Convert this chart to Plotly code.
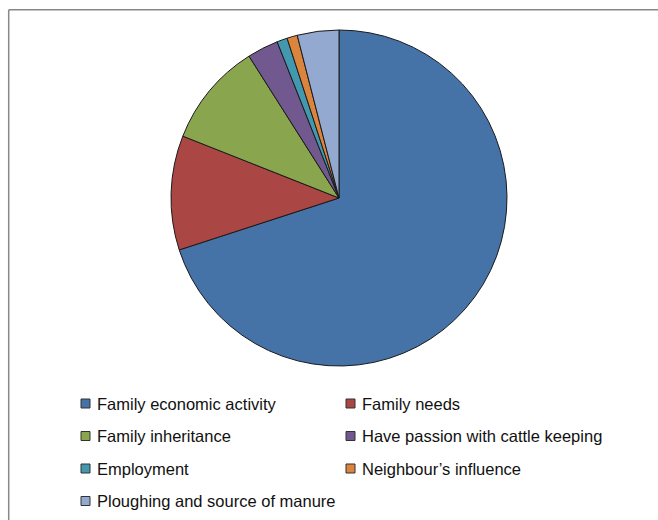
import plotly.graph_objects as go

# Reasons for keeping cattle (% of respondents)
labels = [
    "Family economic activity",
    "Family needs",
    "Family inheritance",
    "Have passion with cattle keeping",
    "Employment",
    "Neighbour\u2019s influence",
    "Ploughing and source of manure",
]
values = [70, 11, 10, 3, 1, 1, 4]
colors = ["#4572A7", "#AA4643", "#89A54E", "#71588F", "#4198AF", "#DB843D", "#93A9CF"]

W, H = 658, 520

fig = go.Figure(
    go.Pie(
        labels=labels,
        values=values,
        sort=False,
        direction="clockwise",
        rotation=0,
        textinfo="none",
        hoverinfo="label+percent",
        marker=dict(colors=colors, line=dict(color="#1a1a1a", width=1)),
        domain=dict(x=[171 / W, 507 / W], y=[1 - 366 / H, 1 - 30 / H]),
        showlegend=False,
    )
)

# Legend drawn as two columns of swatches with labels
col_x = [85.5, 350.5]
row_y0, row_step = 403.5, 32.5
shapes = []
annotations = []
for i, (lab, col) in enumerate(zip(labels, colors)):
    cx = col_x[i % 2]
    cy = row_y0 + row_step * (i // 2)
    shapes.append(dict(
        type="rect", xref="paper", yref="paper",
        x0=(cx - 4.5) / W, x1=(cx + 4.5) / W,
        y0=1 - (cy + 4.5) / H, y1=1 - (cy - 4.5) / H,
        fillcolor=col, line=dict(color="#333333", width=1),
    ))
    annotations.append(dict(
        xref="paper", yref="paper", x=(cx + 9) / W, y=1 - cy / H,
        text=lab, showarrow=False, xanchor="left", yanchor="middle",
        font=dict(family="Liberation Sans, Arial, sans-serif", size=16.5, color="#111111"),
    ))

# Chart frame (left and top edges visible)
shapes.append(dict(type="line", xref="paper", yref="paper",
                   x0=8.7 / W, x1=1.05, y0=1 - 9.7 / H, y1=1 - 9.7 / H,
                   line=dict(color="#888888", width=1.5)))
shapes.append(dict(type="line", xref="paper", yref="paper",
                   x0=8.7 / W, x1=8.7 / W, y0=-0.05, y1=1 - 9.7 / H,
                   line=dict(color="#888888", width=1.5)))

fig.update_layout(
    width=W, height=H,
    margin=dict(l=0, r=0, t=0, b=0),
    paper_bgcolor="white",
    plot_bgcolor="white",
    shapes=shapes,
    annotations=annotations,
)

fig.write_html("out.html")
